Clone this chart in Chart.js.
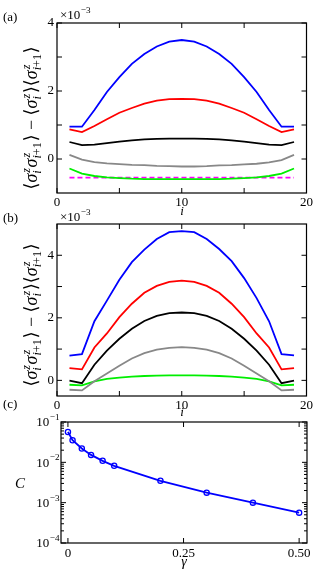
<!DOCTYPE html>
<html>
<head>
<meta charset="utf-8">
<script src="https://cdn.jsdelivr.net/npm/chart.js@4.4.1/dist/chart.umd.min.js"></script>
<style>
  html, body { margin: 0; padding: 0; background: #fff; }
  #wrap { position: relative; width: 315px; height: 571px; overflow: hidden; }
  canvas { position: absolute; left: 0; }
</style>
</head>
<body>
<div id="wrap">
  <canvas id="chartA" width="315" height="220" style="top:0"></canvas>
  <canvas id="chartB" width="315" height="215" style="top:205px"></canvas>
  <canvas id="chartC" width="315" height="171" style="top:400px"></canvas>
</div>
<script>
const SERIF = '"Liberation Serif", "DejaVu Serif", serif';

// site index i (panels a and b)
const sites = [1, 2, 3, 4, 5, 6, 7, 8, 9, 10, 11, 12, 13, 14, 15, 16, 17, 18, 19];

// panel (a), values in units of 1e-3
const blueA = [0.95, 0.95, 1.44, 1.97, 2.41, 2.80, 3.09, 3.31, 3.45, 3.50, 3.45, 3.31, 3.09, 2.80, 2.41, 1.97, 1.44, 0.95, 0.95];
const redA = [0.87, 0.79, 0.97, 1.17, 1.36, 1.50, 1.63, 1.72, 1.76, 1.77, 1.76, 1.72, 1.63, 1.50, 1.36, 1.17, 0.97, 0.79, 0.87];
const blackA = [0.50, 0.41, 0.42, 0.47, 0.51, 0.55, 0.58, 0.59, 0.60, 0.60, 0.60, 0.59, 0.58, 0.55, 0.51, 0.47, 0.42, 0.41, 0.50];
const grayA = [0.12, -0.02, -0.09, -0.13, -0.15, -0.17, -0.18, -0.20, -0.21, -0.22, -0.22, -0.21, -0.19, -0.18, -0.16, -0.14, -0.10, -0.03, 0.12];
const greenA = [-0.28, -0.43, -0.50, -0.54, -0.56, -0.58, -0.59, -0.59, -0.59, -0.59, -0.59, -0.59, -0.59, -0.58, -0.56, -0.54, -0.50, -0.43, -0.28];
const magentaA = [-0.55, -0.55, -0.55, -0.55, -0.55, -0.55, -0.55, -0.55, -0.55, -0.55, -0.55, -0.55, -0.55, -0.55, -0.55, -0.55, -0.55, -0.55, -0.55];

// panel (b), values in units of 1e-3
const blueB = [0.79, 0.84, 1.89, 2.55, 3.22, 3.78, 4.18, 4.52, 4.74, 4.77, 4.74, 4.52, 4.20, 3.81, 3.27, 2.63, 1.89, 0.84, 0.80];
const redB = [0.39, 0.35, 1.05, 1.50, 2.02, 2.45, 2.80, 3.02, 3.15, 3.19, 3.15, 3.02, 2.80, 2.45, 2.02, 1.50, 1.05, 0.35, 0.39];
const blackB = [-0.01, -0.09, 0.50, 0.95, 1.33, 1.65, 1.90, 2.06, 2.15, 2.17, 2.15, 2.06, 1.90, 1.65, 1.33, 0.95, 0.50, -0.09, -0.01];
const grayB = [-0.30, -0.32, -0.03, 0.22, 0.47, 0.70, 0.87, 0.98, 1.04, 1.06, 1.04, 0.98, 0.87, 0.70, 0.47, 0.22, -0.03, -0.32, -0.30];
const greenB = [-0.14, -0.16, -0.03, 0.05, 0.09, 0.12, 0.14, 0.15, 0.16, 0.16, 0.16, 0.15, 0.14, 0.12, 0.09, 0.05, -0.03, -0.16, -0.14];

// panel (c)
const gammaC = [0, 0.01, 0.03, 0.05, 0.075, 0.1, 0.2, 0.3, 0.4, 0.5];
const corrC = [0.0567, 0.0352, 0.022, 0.0153, 0.0109, 0.0082, 0.00349, 0.00177, 0.00100, 0.000566];

// ticks
const xLabelsAB = [0, 10, 20];
const xTicksAB = [0, 5, 10, 15, 20];
const yLabelsA = [0, 2, 4];
const yTicksA = [0, 1, 2, 3, 4];
const yLabelsB = [0, 2, 4];
const yTicksB = [0, 1, 2, 3, 4];
const xLabelsC = [0, 0.25, 0.5];
const yLabelsC = [1e-4, 1e-3, 1e-2, 1e-1];
const yExpC = ['−4', '−3', '−2', '−1'];

// the y title: <s_i^z s_{i+1}^z> - <s_i^z><s_{i+1}^z>
const yTitleParts = [
    { t: '⟨' }, { t: 'σ', it: true }, { sup: 'z', sub: 'i' },
    { t: 'σ', it: true }, { sup: 'z', sub: 'i+1' },
    { t: '⟩ − ⟨' }, { t: 'σ', it: true }, { sup: 'z', sub: 'i' },
    { t: '⟩⟨' }, { t: 'σ', it: true }, { sup: 'z', sub: 'i+1' }, { t: '⟩' }
];

function font(size, italic) {
    return (italic ? 'italic ' : '') + size + 'px ' + SERIF;
}

// lays out rich text; draws it if draw is true, returns width
function richRun(ctx, parts, x0, base, size, draw) {
    let x = x0;
    const s = size * 0.68;
    parts.forEach(p => {
        if (p.t !== undefined) {
            ctx.font = font(size, p.it);
            if (draw) ctx.fillText(p.t, x, base);
            x += ctx.measureText(p.t).width;
        } else {
            ctx.font = font(s, true);
            const supW = ctx.measureText(p.sup).width;
            if (draw) ctx.fillText(p.sup, x + 1, base - size * 0.40);
            const head = p.sub[0], tail = p.sub.slice(1);
            if (draw) ctx.fillText(head, x, base + size * 0.25);
            let w = ctx.measureText(head).width;
            if (tail) {
                ctx.font = font(s, false);
                if (draw) ctx.fillText(tail, x + w, base + size * 0.25);
                w += ctx.measureText(tail).width;
            }
            x += Math.max(supW + 1, w) + 0.5;
        }
    });
    return x - x0;
}

function drawRich(ctx, parts, cx, cy, angle, size) {
    ctx.save();
    ctx.translate(cx, cy);
    ctx.rotate(angle);
    ctx.fillStyle = '#000';
    ctx.textAlign = 'left';
    ctx.textBaseline = 'alphabetic';
    const w = richRun(ctx, parts, 0, 0, size, false);
    richRun(ctx, parts, -w / 2, size * 0.33, size, true);
    ctx.restore();
}

function drawText(ctx, str, x, y, size, italic, align) {
    ctx.save();
    ctx.fillStyle = '#000';
    ctx.font = font(size, italic);
    ctx.textAlign = align || 'center';
    ctx.textBaseline = 'middle';
    ctx.fillText(str, x, y);
    ctx.restore();
}

function drawPower(ctx, pre, exp, xRight, y, size, alignLeft) {
    ctx.save();
    ctx.fillStyle = '#000';
    ctx.textBaseline = 'alphabetic';
    ctx.textAlign = 'left';
    ctx.font = font(size, false);
    const w1 = ctx.measureText(pre).width;
    ctx.font = font(size * 0.7, false);
    const w2 = ctx.measureText(exp).width;
    const x0 = alignLeft ? xRight : xRight - w1 - w2;
    ctx.font = font(size, false);
    ctx.fillText(pre, x0, y + size * 0.33);
    ctx.font = font(size * 0.7, false);
    ctx.fillText(exp, x0 + w1 + 0.5, y - size * 0.15);
    ctx.restore();
}

// box with inward ticks on all four sides
const framePlugin = {
    id: 'frame',
    afterDatasetsDraw(chart, args, opts) {
        const { ctx, chartArea: a, scales } = chart;
        ctx.save();
        ctx.strokeStyle = '#000';
        ctx.lineWidth = 1.2;
        ctx.strokeRect(a.left, a.top, a.right - a.left, a.bottom - a.top);
        ctx.lineWidth = 1;
        const seg = (x1, y1, x2, y2) => {
            ctx.beginPath(); ctx.moveTo(x1, y1); ctx.lineTo(x2, y2); ctx.stroke();
        };
        (opts.xTicks || []).forEach(v => {
            const p = scales.x.getPixelForValue(v);
            seg(p, a.bottom, p, a.bottom - opts.len);
            seg(p, a.top, p, a.top + opts.len);
        });
        (opts.yTicks || []).forEach(v => {
            const p = scales.y.getPixelForValue(v);
            seg(a.left, p, a.left + opts.len, p);
            seg(a.right, p, a.right - opts.len, p);
        });
        (opts.yMinor || []).forEach(v => {
            const p = scales.y.getPixelForValue(v);
            seg(a.left, p, a.left + opts.minorLen, p);
            seg(a.right, p, a.right - opts.minorLen, p);
        });
        ctx.restore();
    }
};

function lineSet(values, color, dash) {
    return {
        data: sites.map((s, k) => ({ x: s, y: values[k] })),
        borderColor: color,
        borderWidth: 1.8,
        borderDash: dash || [],
        pointRadius: 0,
        tension: 0,
        fill: false
    };
}

function siteChart(id, sets, yMin, yMax, yLabels, yTicks, padTop, xHeight, extra) {
    return new Chart(document.getElementById(id), {
        type: 'line',
        data: { datasets: sets },
        options: {
            responsive: false,
            animation: false,
            layout: { padding: { top: padTop, right: 7, left: 0, bottom: 0 } },
            plugins: {
                legend: { display: false },
                tooltip: { enabled: false },
                frame: { xTicks: xTicksAB, yTicks: yTicks, len: 5 }
            },
            scales: {
                x: {
                    type: 'linear', min: 0, max: 20,
                    afterBuildTicks: s => { s.ticks = xLabelsAB.map(v => ({ value: v })); },
                    afterFit: s => { s.height = xHeight; },
                    grid: { display: false, drawTicks: false },
                    border: { display: false },
                    ticks: { color: '#000', font: { family: SERIF, size: 13 }, padding: 2, maxRotation: 0, autoSkip: false }
                },
                y: {
                    type: 'linear', min: yMin, max: yMax,
                    afterBuildTicks: s => { s.ticks = yLabels.map(v => ({ value: v })); },
                    afterFit: s => { s.width = 57; },
                    grid: { display: false, drawTicks: false },
                    border: { display: false },
                    ticks: { color: '#000', font: { family: SERIF, size: 13 }, padding: 3 }
                }
            }
        },
        plugins: [framePlugin, extra]
    });
}

siteChart('chartA', [
    lineSet(blueA, '#0000ff'),
    lineSet(redA, '#ff0000'),
    lineSet(blackA, '#000000'),
    lineSet(grayA, '#888888'),
    lineSet(greenA, '#00ee00'),
    lineSet(magentaA, '#ff00ff', [5, 3])
], -1, 4, yLabelsA, yTicksA, 23, 27, {
    id: 'labelsA',
    afterDraw(chart) {
        const ctx = chart.ctx;
        drawText(ctx, '(a)', 3, 18, 13, false, 'left');
        drawPower(ctx, '×10', '−3', 60, 15, 13, true);
        drawRich(ctx, yTitleParts, 31, 118, -Math.PI / 2, 18);
        drawText(ctx, 'i', 182, 212, 13, true);
    }
});

siteChart('chartB', [
    lineSet(blueB, '#0000ff'),
    lineSet(redB, '#ff0000'),
    lineSet(blackB, '#000000'),
    lineSet(grayB, '#888888'),
    lineSet(greenB, '#00ee00')
], -0.5, 5, yLabelsB, yTicksB, 19, 24, {
    id: 'labelsB',
    afterDraw(chart) {
        const ctx = chart.ctx;
        drawText(ctx, '(b)', 3, 14, 13, false, 'left');
        drawPower(ctx, '×10', '−3', 60, 12, 13, true);
        drawRich(ctx, yTitleParts, 31, 110, -Math.PI / 2, 18);
        drawText(ctx, 'i', 182, 208, 13, true);
    }
});

// minor ticks of the log axis
const logMinor = [];
[-4, -3, -2].forEach(d => {
    [2, 3, 4, 5, 6, 7, 8, 9].forEach(m => logMinor.push(m * Math.pow(10, d)));
});

new Chart(document.getElementById('chartC'), {
    type: 'line',
    data: {
        datasets: [{
            data: gammaC.map((g, k) => ({ x: g, y: corrC[k] })),
            borderColor: '#0000ff',
            borderWidth: 1.8,
            pointRadius: 2.6,
            pointBorderWidth: 1.3,
            pointBorderColor: '#0000ff',
            pointBackgroundColor: 'rgba(0,0,0,0)',
            tension: 0,
            fill: false
        }]
    },
    options: {
        responsive: false,
        animation: false,
        layout: { padding: { top: 22, right: 8, left: 0, bottom: 0 } },
        plugins: {
            legend: { display: false },
            tooltip: { enabled: false },
            frame: { xTicks: xLabelsC, yTicks: yLabelsC, yMinor: logMinor, len: 5, minorLen: 3 }
        },
        scales: {
            x: {
                type: 'linear', min: -0.015, max: 0.517,
                afterBuildTicks: s => { s.ticks = xLabelsC.map(v => ({ value: v })); },
                afterFit: s => { s.height = 28; },
                grid: { display: false, drawTicks: false },
                border: { display: false },
                ticks: {
                    color: '#000', font: { family: SERIF, size: 13 }, padding: 3, maxRotation: 0, autoSkip: false,
                    callback: v => (v === 0 ? '0' : v.toFixed(2))
                }
            },
            y: {
                type: 'logarithmic', min: 1e-4, max: 1e-1,
                afterBuildTicks: s => { s.ticks = yLabelsC.map(v => ({ value: v })); },
                afterFit: s => { s.width = 61; },
                grid: { display: false, drawTicks: false },
                border: { display: false },
                ticks: { display: false }
            }
        }
    },
    plugins: [framePlugin, {
        id: 'labelsC',
        afterDraw(chart) {
            const ctx = chart.ctx;
            const ys = chart.scales.y;
            yLabelsC.forEach((v, k) => {
                drawPower(ctx, '10', yExpC[k], 59, ys.getPixelForValue(v), 13, false);
            });
            drawText(ctx, '(c)', 3, 5, 13, false, 'left');
            drawText(ctx, 'C', 20, 84, 15, true);
            drawText(ctx, 'γ', 184, 162, 14, true);
        }
    }]
});
</script>
</body>
</html>
